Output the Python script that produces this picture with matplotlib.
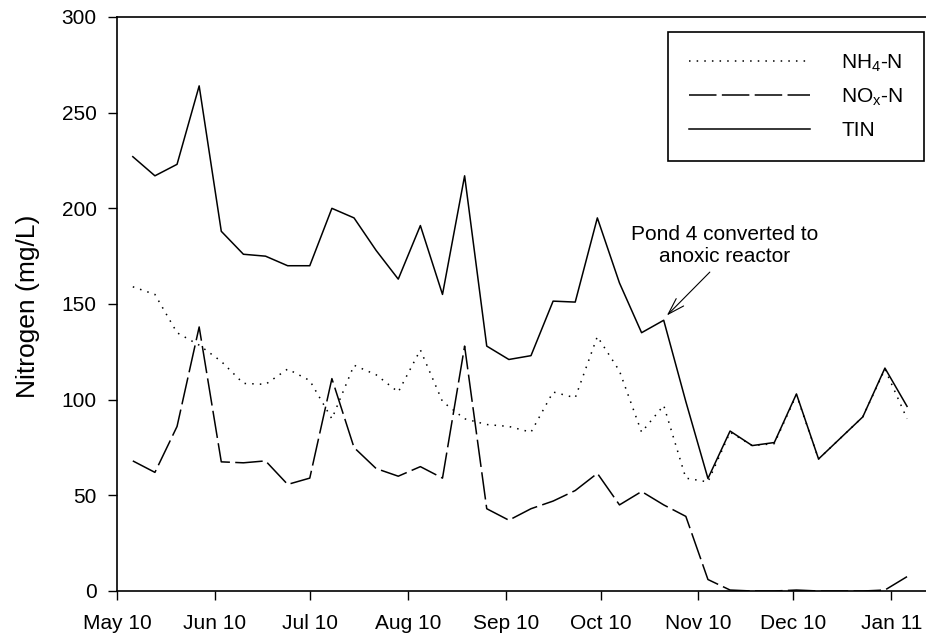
import pandas as pd
import matplotlib
matplotlib.use('Agg')
import matplotlib.pyplot as plt
import matplotlib.dates as mdates

plt.rcParams['font.family'] = ['Liberation Sans', 'DejaVu Sans']
plt.rcParams['mathtext.fontset'] = 'custom'
plt.rcParams['mathtext.rm'] = 'Liberation Sans'
plt.rcParams['mathtext.it'] = 'Liberation Sans'

# weekly sampling dates (Dec 16 not sampled)
dates = ['2010-05-06', '2010-05-13', '2010-05-20', '2010-05-27',
         '2010-06-03', '2010-06-10', '2010-06-17', '2010-06-24',
         '2010-07-01', '2010-07-08', '2010-07-15', '2010-07-22', '2010-07-29',
         '2010-08-05', '2010-08-12', '2010-08-19', '2010-08-26',
         '2010-09-02', '2010-09-09', '2010-09-16', '2010-09-23', '2010-09-30',
         '2010-10-07', '2010-10-14', '2010-10-21', '2010-10-28',
         '2010-11-04', '2010-11-11', '2010-11-18', '2010-11-25',
         '2010-12-02', '2010-12-09', '2010-12-23', '2010-12-30',
         '2011-01-06']

nh4 = [159, 155, 135, 128.5,
       120, 108.5, 108, 116,
       110, 90, 118, 113, 104,
       126, 99, 90, 87,
       86, 83, 104, 101, 133,
       115, 83, 97, 59,
       57, 83, 76, 77, 102.5,
       69, 91, 116, 90]

nox = [68, 62, 86, 138,
       67.5, 67, 68, 55.7,
       59, 111, 75, 64, 60,
       65, 59, 128, 43,
       37, 43, 47, 52.5, 61.5,
       45, 52, 45, 39,
       6, 0.5, 0, 0, 0.5,
       0, 0, 0.5, 7.5]

tin = [227, 217, 223, 264,
       188, 176, 175, 170,
       170, 200, 195, 178, 163,
       191, 155, 217, 128,
       121, 123, 151.5, 151, 195,
       161, 135, 141.5, 99,
       58.8, 83.6, 76, 77.6, 103,
       69, 91, 116.5, 96.5]

x = pd.to_datetime(dates)

fig = plt.figure(figsize=(9.26, 6.36), dpi=100)
ax = fig.add_axes([117/926, 45/636, 809/926, 574/636])

ax.plot(x, nh4, color='black', lw=1.1, linestyle=(0, (1, 4)), label='NH$_4$-N')
ax.plot(x, nox, color='black', lw=1.1, linestyle=(0, (18, 3.5)), label='NO$_\\mathrm{x}$-N')
ax.plot(x, tin, color='black', lw=1.1, linestyle='-', label='TIN')

ax.set_ylim(0, 300)
ax.set_xlim(pd.Timestamp('2010-05-01'), pd.Timestamp('2011-01-12'))
ax.set_yticks([0, 50, 100, 150, 200, 250, 300])
ax.xaxis.set_major_locator(mdates.MonthLocator())
ax.xaxis.set_major_formatter(mdates.DateFormatter('%b %y'))
ax.tick_params(direction='out', length=6.5, width=1, pad=8, labelsize=15, colors='black')
ax.tick_params(axis='x', pad=10)
ax.spines['right'].set_visible(False)
for s in ['left', 'bottom', 'top']:
    ax.spines[s].set_linewidth(1.2)

ax.set_ylabel('Nitrogen (mg/L)', fontsize=19)
ax.yaxis.set_label_coords(-0.095, 0.4956)

ax.annotate('Pond 4 converted to\nanoxic reactor',
            xy=(pd.Timestamp('2010-10-22'), 144), xycoords='data',
            xytext=(58, 70), textcoords='offset pixels',
            ha='center', va='center', fontsize=15, linespacing=1.25,
            arrowprops=dict(arrowstyle='->,head_length=0.8,head_width=0.25',
                            color='black', lw=0.8, shrinkA=3, shrinkB=0,
                            relpos=(0.45, 0)))

leg = ax.legend(loc='upper right', bbox_to_anchor=(924/926, 1 - 31.7/636),
                bbox_transform=fig.transFigure, borderaxespad=0,
                fontsize=15, handlelength=5.8, handletextpad=1.5,
                labelspacing=0.62, borderpad=1.0, fancybox=False,
                framealpha=1, edgecolor='black')
leg.get_frame().set_linewidth(1.2)

fig.savefig('out.png', dpi=100)
